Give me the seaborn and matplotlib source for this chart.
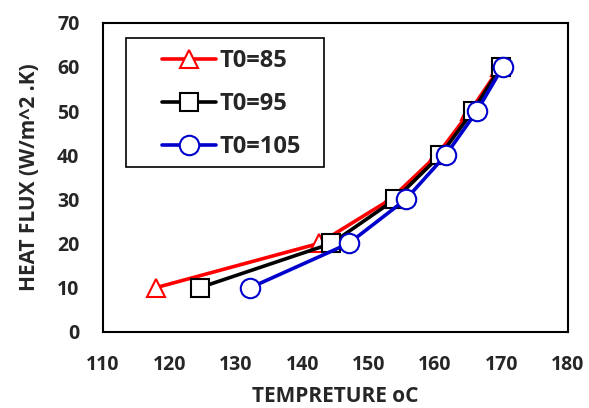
import matplotlib
matplotlib.use("Agg")
import matplotlib.pyplot as plt
from matplotlib.patches import Rectangle
import seaborn as sns
import pandas as pd

heat_flux = [10, 20, 30, 40, 50, 60]
temp_85 = [118.0, 142.5, 153.3, 160.3, 165.3, 169.8]
temp_95 = [124.6, 144.4, 154.0, 160.8, 165.7, 169.9]
temp_105 = [132.2, 147.0, 155.6, 161.6, 166.3, 170.2]
labels = ["T0=85", "T0=95", "T0=105"]
colors = ["#ff0000", "#000000", "#0000cc"]
markers = ["^", "s", "o"]

sns.set_theme(style="white")
plt.rcParams["font.family"] = ["Open Sans", "DejaVu Sans"]
plt.rcParams["font.weight"] = "bold"

rows = []
for lab, temps in zip(labels, [temp_85, temp_95, temp_105]):
    for t, q in zip(temps, heat_flux):
        rows.append({"T": t, "Q": q, "series": lab})
df = pd.DataFrame(rows)

fig = plt.figure(figsize=(5.89, 4.08), dpi=100)
ax = fig.add_axes([0.175, 0.187, 0.789, 0.757])

for lab, col, mk in zip(labels, colors, markers):
    sub = df[df["series"] == lab]
    sns.lineplot(data=sub, x="T", y="Q", ax=ax, color=col, lw=2.6, sort=False,
                 marker=mk, markersize=13 if mk != "o" else 14,
                 markerfacecolor="white", markeredgecolor=col, markeredgewidth=1.5,
                 label=lab)

ax.set_xlim(110, 180)
ax.set_ylim(0, 70)
ax.set_xticks(range(110, 181, 10))
ax.set_yticks(range(0, 71, 10))
ax.tick_params(axis="both", labelsize=14, length=0, pad=17)
for lbl in ax.get_xticklabels() + ax.get_yticklabels():
    lbl.set_fontweight("bold")
ax.set_xlabel("TEMPRETURE oC", fontsize=15, fontweight="bold", labelpad=8)
ax.set_ylabel("HEAT FLUX (W/m^2 .K)", fontsize=15, fontweight="bold", labelpad=12)
for s in ax.spines.values():
    s.set_color("black")
    s.set_linewidth(1.5)
ax.grid(False)

# legend box frame
ax.add_patch(Rectangle((0.0495, 0.533), 0.4255, 0.417, transform=ax.transAxes,
                       fill=True, facecolor="white", edgecolor="black",
                       linewidth=1.2, zorder=4))
leg = ax.legend(loc="upper left", bbox_to_anchor=(0.127, 0.914), fontsize=17,
                frameon=False, handlelength=2.3, labelspacing=0.8,
                borderpad=0.0, handletextpad=0.15, borderaxespad=0)
leg.set_zorder(5)
for t in leg.get_texts():
    t.set_fontweight("bold")

fig.savefig("out.png", dpi=100)
